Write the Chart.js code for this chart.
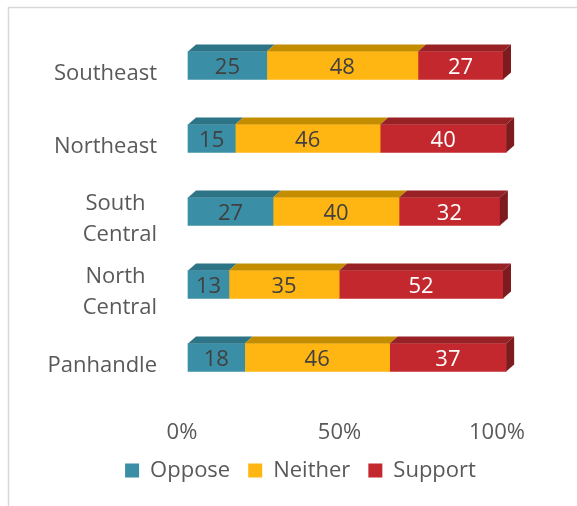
<!DOCTYPE html>
<html>
<head>
<meta charset="utf-8">
<title>Support by region</title>
<script src="https://cdn.jsdelivr.net/npm/chart.js@4/dist/chart.umd.min.js"></script>
<style>
  html, body { margin: 0; padding: 0; background: #ffffff; }
  #chart { display: block; }
</style>
</head>
<body>
<canvas id="chart" width="577" height="506"></canvas>
<script>
// Survey responses by region (percent of respondents)
const categories = ['Southeast', 'Northeast', 'South Central', 'North Central', 'Panhandle'];
const seriesNames = ['Oppose', 'Neither', 'Support'];
const oppose  = [25, 15, 27, 13, 18];
const neither = [48, 46, 40, 35, 46];
const support = [27, 40, 32, 52, 37];
const xTickValues = [0, 50, 100];

// Face colours: front, top, side
const frontColors = ['#3A8FA6', '#FFB612', '#C3282E'];
const topColors   = ['#2D7486', '#C48D00', '#972125'];
const sideColor   = '#7E1B1F';
const labelColors = ['#404040', '#404040', '#FFFFFF'];

const FONT = '"Open Sans", Lato, sans-serif';
const DEPTH_X = 8;
const DEPTH_Y = 7;

// Thin frame around the plot region
const framePlugin = {
  id: 'frame',
  beforeDraw(chart) {
    const ctx = chart.ctx;
    ctx.save();
    ctx.strokeStyle = '#D9D9D9';
    ctx.lineWidth = 1.5;
    ctx.beginPath();
    ctx.moveTo(8.5, chart.height);
    ctx.lineTo(8.5, 7.5);
    ctx.lineTo(chart.width, 7.5);
    ctx.stroke();
    ctx.restore();
  }
};

// Extruded look: top faces on every segment, a side face on the last one,
// then the value labels on the front faces.
const extrudePlugin = {
  id: 'extrude',
  afterDatasetsDraw(chart) {
    const ctx = chart.ctx;
    const n = chart.data.datasets.length;
    ctx.save();
    for (let d = 0; d < n; d++) {
      const meta = chart.getDatasetMeta(d);
      meta.data.forEach(bar => {
        const left = Math.min(bar.base, bar.x);
        const right = Math.max(bar.base, bar.x);
        const top = bar.y - bar.height / 2;
        ctx.fillStyle = topColors[d];
        ctx.beginPath();
        ctx.moveTo(left, top);
        ctx.lineTo(left + DEPTH_X, top - DEPTH_Y);
        ctx.lineTo(right + DEPTH_X, top - DEPTH_Y);
        ctx.lineTo(right, top);
        ctx.closePath();
        ctx.fill();
      });
    }
    const lastMeta = chart.getDatasetMeta(n - 1);
    lastMeta.data.forEach(bar => {
      const right = Math.max(bar.base, bar.x);
      const top = bar.y - bar.height / 2;
      const bottom = bar.y + bar.height / 2;
      ctx.fillStyle = sideColor;
      ctx.beginPath();
      ctx.moveTo(right, top);
      ctx.lineTo(right + DEPTH_X, top - DEPTH_Y);
      ctx.lineTo(right + DEPTH_X, bottom - DEPTH_Y);
      ctx.lineTo(right, bottom);
      ctx.closePath();
      ctx.fill();
    });
    ctx.font = '22px ' + FONT;
    ctx.textAlign = 'center';
    ctx.textBaseline = 'middle';
    for (let d = 0; d < n; d++) {
      const meta = chart.getDatasetMeta(d);
      const values = chart.data.datasets[d].data;
      meta.data.forEach((bar, i) => {
        ctx.fillStyle = labelColors[d];
        ctx.fillText(String(values[i]), (bar.base + bar.x) / 2, bar.y + 2);
      });
    }
    ctx.restore();
  }
};

const seriesValues = [oppose, neither, support];

// vertical axes keep no extra room above/below the plot for their labels
function fixVerticalAxis(width) {
  return scale => {
    scale.width = width;
    scale.paddingTop = 0;
    scale.paddingBottom = 0;
  };
}

new Chart(document.getElementById('chart'), {
  type: 'bar',
  data: {
    labels: categories,
    datasets: seriesNames.map((name, k) => ({
      label: name,
      data: seriesValues[k],
      backgroundColor: frontColors[k],
      borderWidth: 0,
      barThickness: 28,
      clip: false
    }))
  },
  options: {
    indexAxis: 'y',
    responsive: false,
    animation: false,
    layout: { padding: { left: 24, right: 0, top: 29, bottom: 14.5 } },
    scales: {
      x: {
        stacked: true,
        min: 0,
        max: 100,
        grid: { display: false, drawTicks: false },
        border: { display: false },
        afterBuildTicks(scale) { scale.ticks = xTickValues.map(v => ({ value: v })); },
        afterFit(scale) { scale.height = 47.5; },
        ticks: {
          padding: 26,
          labelOffset: -6,
          color: '#595959',
          font: { family: FONT, size: 22 },
          callback: v => v + '%'
        }
      },
      y: {
        stacked: true,
        grid: { display: false, drawTicks: false },
        border: { display: false },
        afterFit: fixVerticalAxis(164),
        ticks: {
          autoSkip: false,
          padding: 31,
          labelOffset: 8,
          color: '#595959',
          font: { family: FONT, size: 22, lineHeight: 1.42 },
          callback(value, index) {
            const words = categories[index].split(' ');
            // two-word names wrap; the shorter first line sits centred over the second
            return words.length > 1 ? [words[0] + '  ', words[1]] : words[0];
          }
        }
      },
      // empty strip on the right that leaves room for the bar ends
      gutter: {
        type: 'category',
        axis: 'y',
        position: 'right',
        grid: { display: false, drawTicks: false },
        border: { display: false },
        ticks: { display: false },
        afterFit: fixVerticalAxis(74)
      }
    },
    plugins: {
      legend: {
        position: 'bottom',
        labels: {
          boxWidth: 14,
          boxHeight: 14,
          padding: 18,
          color: '#595959',
          font: { family: FONT, size: 22 }
        }
      },
      tooltip: { enabled: false }
    }
  },
  plugins: [framePlugin, extrudePlugin]
});
</script>
</body>
</html>
